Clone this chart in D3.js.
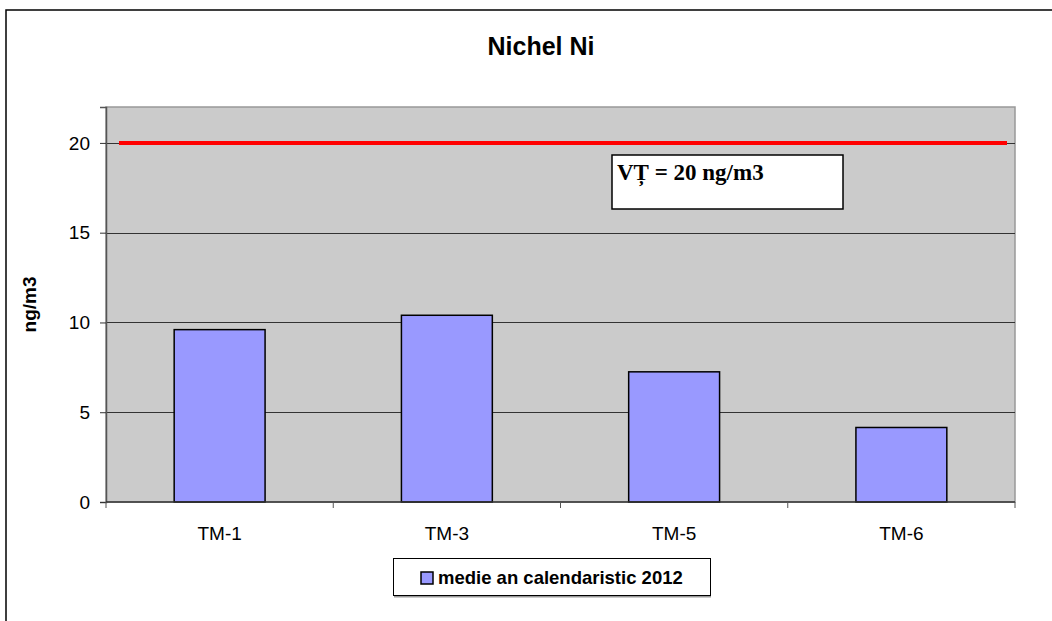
<!DOCTYPE html>
<html>
<head>
<meta charset="utf-8">
<script src="https://cdn.jsdelivr.net/npm/d3@7"></script>
<style>
  html, body { margin: 0; padding: 0; background: #fff; }
  svg { display: block; font-family: "Liberation Sans", Arial, sans-serif; }
</style>
</head>
<body>
<svg id="chart" width="1052" height="621"></svg>
<script>
// data
const categories = ['TM-1', 'TM-3', 'TM-5', 'TM-6'];
const values = [9.6, 10.4, 7.25, 4.15];
const yTicks = [0, 5, 10, 15, 20];
const limitValue = 20;
const seriesName = 'medie an calendaristic 2012';
const limitLabel = 'VȚ = 20 ng/m3';

const svg = d3.select('#chart');
const margin = { left: 106, right: 1015, top: 107, bottom: 502 };

// outer frame (right/bottom edges fall outside the picture)
svg.append('rect')
    .attr('x', 6).attr('y', 10)
    .attr('width', 1060).attr('height', 640)
    .attr('fill', '#fff').attr('stroke', '#000').attr('stroke-width', 1.5);

const x = d3.scaleBand().domain(categories).range([margin.left, margin.right]).paddingInner(0).paddingOuter(0);
const y = d3.scaleLinear().domain([0, 22]).range([margin.bottom, margin.top]);

// plot background
svg.append('rect')
    .attr('x', margin.left).attr('y', margin.top)
    .attr('width', margin.right - margin.left).attr('height', margin.bottom - margin.top)
    .attr('fill', '#cbcbcb').attr('stroke', '#999').attr('stroke-width', 1.5);

// gridlines
svg.append('g').selectAll('line')
    .data(yTicks.filter(d => d > 0))
    .enter().append('line')
    .attr('x1', margin.left).attr('x2', margin.right)
    .attr('y1', d => Math.round(y(d)) + 0.5).attr('y2', d => Math.round(y(d)) + 0.5)
    .attr('stroke', '#333').attr('stroke-width', 1);

// y axis
const yAxis = svg.append('g')
    .attr('transform', `translate(${margin.left},0)`)
    .call(d3.axisLeft(y).tickValues(yTicks).tickSize(6).tickPadding(10));
yAxis.select('.domain').attr('stroke', '#555').attr('stroke-width', 1.5);
yAxis.selectAll('.tick line').attr('stroke', '#333');
yAxis.selectAll('text').attr('font-size', 19).attr('fill', '#000')
    .style('font-family', '"Liberation Sans", Arial, sans-serif');

// bars
svg.append('g').selectAll('rect')
    .data(values)
    .enter().append('rect')
    .attr('x', (d, i) => x(categories[i]) + x.bandwidth() * 0.3)
    .attr('width', x.bandwidth() * 0.4)
    .attr('y', d => y(d))
    .attr('height', d => y(0) - y(d))
    .attr('fill', '#9999ff').attr('stroke', '#000').attr('stroke-width', 1.5);

// x axis
const xAxis = svg.append('g')
    .attr('transform', `translate(0,${margin.bottom})`);
xAxis.append('line')
    .attr('x1', margin.left).attr('x2', margin.right)
    .attr('stroke', '#333').attr('stroke-width', 1.5);
const bounds = categories.map(c => x(c)).concat([margin.right]);
xAxis.selectAll('.xtick')
    .data(bounds)
    .enter().append('line')
    .attr('x1', d => d).attr('x2', d => d)
    .attr('y1', 0).attr('y2', 6)
    .attr('stroke', '#555');
xAxis.selectAll('.xlabel')
    .data(categories)
    .enter().append('text')
    .attr('x', d => x(d) + x.bandwidth() / 2)
    .attr('y', 38)
    .attr('text-anchor', 'middle')
    .attr('font-size', 19)
    .text(d => d);

// limit line
svg.append('line')
    .attr('x1', margin.left + 13).attr('x2', margin.right - 8)
    .attr('y1', y(limitValue)).attr('y2', y(limitValue))
    .attr('stroke', '#ff0000').attr('stroke-width', 4);

// limit label box
svg.append('rect')
    .attr('x', 612).attr('y', 155)
    .attr('width', 231).attr('height', 54)
    .attr('fill', '#fff').attr('stroke', '#000').attr('stroke-width', 1.5);
svg.append('text')
    .attr('x', 617).attr('y', 180)
    .attr('font-family', '"Liberation Serif", "Times New Roman", serif')
    .attr('font-weight', 'bold').attr('font-size', 23)
    .text(limitLabel);

// title
svg.append('text')
    .attr('x', 541).attr('y', 55)
    .attr('text-anchor', 'middle')
    .attr('font-weight', 'bold').attr('font-size', 25)
    .text('Nichel Ni');

// y axis title
svg.append('text')
    .attr('transform', `translate(36,${(margin.top + margin.bottom) / 2}) rotate(-90)`)
    .attr('text-anchor', 'middle')
    .attr('font-weight', 'bold').attr('font-size', 19)
    .text('ng/m3');

// legend
const legend = svg.append('g');
legend.append('line')
    .attr('x1', 394).attr('x2', 711).attr('y1', 596.5).attr('y2', 596.5)
    .attr('stroke', '#999').attr('stroke-width', 2);
legend.append('rect')
    .attr('x', 393.5).attr('y', 558.5).attr('width', 317).attr('height', 37)
    .attr('fill', '#fff').attr('stroke', '#000').attr('stroke-width', 1);
legend.append('rect')
    .attr('x', 421).attr('y', 572).attr('width', 12).attr('height', 12)
    .attr('fill', '#9999ff').attr('stroke', '#000').attr('stroke-width', 1.5);
legend.append('text')
    .attr('x', 438).attr('y', 583.5)
    .attr('font-weight', 'bold').attr('font-size', 18.5)
    .text(seriesName);
</script>
</body>
</html>
